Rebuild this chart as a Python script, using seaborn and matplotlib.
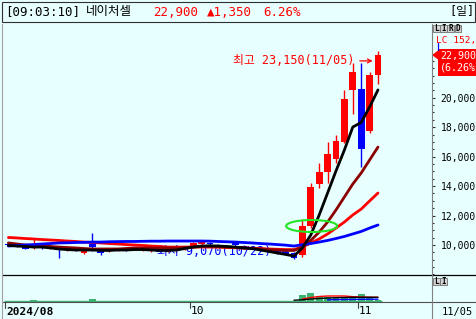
import numpy as np
import matplotlib
matplotlib.use("Agg")
import matplotlib.pyplot as plt
import seaborn as sns
from matplotlib.patches import Rectangle, Ellipse, Polygon
from matplotlib.lines import Line2D
from matplotlib.ticker import FixedLocator, FuncFormatter
import matplotlib.transforms as mtransforms

# ---------------- data ----------------
dates = ["2024-08-27", "2024-08-28", "2024-08-29", "2024-08-30",
         "2024-09-02", "2024-09-03", "2024-09-04", "2024-09-05", "2024-09-06",
         "2024-09-09", "2024-09-10", "2024-09-11", "2024-09-12", "2024-09-13",
         "2024-09-19", "2024-09-20", "2024-09-23", "2024-09-24", "2024-09-25",
         "2024-09-26", "2024-09-27", "2024-09-30",
         "2024-10-02", "2024-10-04", "2024-10-07", "2024-10-08", "2024-10-10",
         "2024-10-11", "2024-10-14", "2024-10-15", "2024-10-16", "2024-10-17",
         "2024-10-18", "2024-10-21", "2024-10-22", "2024-10-23", "2024-10-24",
         "2024-10-25", "2024-10-28", "2024-10-29", "2024-10-30", "2024-10-31",
         "2024-11-01", "2024-11-04", "2024-11-05"]

opens = [10100, 10050, 9900, 9800, 9900, 9780, 9800, 9650, 9750, 9470,
         10050, 9580, 9600, 9650, 9750, 9800, 9650, 9600, 9700, 9550,
         9600, 9700, 9880, 10050, 10150, 10000, 9850, 10200, 9950, 9750,
         9800, 9650, 9650, 9500, 9460, 9320, 11290, 14140, 14960, 15840,
         16990, 20530, 20590, 17740, 21550]
highs = [10200, 10100, 9950, 10450, 9950, 9900, 9850, 9800, 9800, 9650,
         10800, 9600, 9800, 9800, 9800, 9850, 9800, 9750, 9750, 9700,
         9800, 9950, 10200, 10250, 10200, 10050, 10000, 10250, 10000, 9900,
         9850, 9700, 9700, 9550, 9500, 11770, 14210, 15570, 16990, 17470,
         20530, 22360, 22360, 21750, 23150]
lows = [9950, 9850, 9700, 9750, 9750, 9700, 9150, 9600, 9600, 9420,
        9600, 9350, 9550, 9600, 9600, 9650, 9600, 9550, 9500, 9500,
        9550, 9650, 9850, 10000, 10000, 9850, 9800, 9950, 9750, 9700,
        9600, 9500, 9400, 9350, 9070, 9190, 11150, 13870, 14210, 15570,
        16930, 18900, 15300, 17610, 20930]
closes = [10000, 9900, 9750, 9900, 9800, 9850, 9650, 9750, 9650, 9590,
          9850, 9470, 9750, 9750, 9650, 9700, 9750, 9700, 9550, 9650,
          9750, 9900, 10120, 10200, 10050, 9900, 9950, 10000, 9800, 9850,
          9650, 9550, 9450, 9400, 9150, 11290, 13940, 14960, 16180, 17060,
          19910, 21750, 16520, 21550, 22900]

ma5 = [9970, 9930, 9900, 9860, 9860, 9800, 9730, 9690, 9660, 9660,
       9660, 9630, 9630, 9660, 9660, 9690, 9690, 9660, 9630, 9630,
       9660, 9760, 9860, 9930, 9950, 9930, 9900, 9860, 9800, 9760,
       9660, 9560, 9460, 9360, 9250, 9800, 10680, 12040, 13530, 15030,
       16450, 18010, 18320, 19370, 20530]
ma10 = [10140, 10070, 10000, 9970, 9930, 9900, 9860, 9830, 9800, 9760,
        9730, 9730, 9730, 9730, 9760, 9800, 9800, 9800, 9800, 9800,
        9800, 9830, 9860, 9900, 9900, 9900, 9860, 9830, 9800, 9760,
        9730, 9690, 9660, 9630, 9630, 9860, 10310, 10880, 11560, 12380,
        13260, 14140, 14890, 15770, 16650]
ma20 = [10510, 10480, 10440, 10410, 10370, 10340, 10310, 10270, 10240, 10200,
        10170, 10140, 10100, 10070, 10030, 10000, 9970, 9930, 9900, 9860,
        9860, 9860, 9860, 9860, 9860, 9850, 9830, 9810, 9800, 9780,
        9760, 9730, 9710, 9690, 9690, 9860, 10140, 10410, 10750, 11150,
        11560, 12040, 12440, 12990, 13530]
ma60 = [9930, 9970, 10000, 10030, 10070, 10100, 10140, 10150, 10170, 10180,
        10200, 10200, 10220, 10230, 10240, 10240, 10250, 10260, 10260, 10270,
        10270, 10270, 10270, 10270, 10260, 10240, 10220, 10200, 10170, 10140,
        10100, 10070, 10030, 9990, 9930, 10020, 10100, 10200, 10310, 10440,
        10580, 10750, 10920, 11150, 11360]

# volume (million shares)
volumes = [0.5, 0.4, 0.4, 0.6, 0.4, 0.3, 0.5, 0.4, 0.3, 0.4,
           1.6, 0.5, 0.4, 0.3, 0.3, 0.4, 0.3, 0.3, 0.4, 0.3,
           0.3, 0.4, 0.5, 0.4, 0.3, 0.3, 0.3, 0.4, 0.3, 0.3,
           0.3, 0.3, 0.4, 0.3, 0.5, 6.0, 8.0, 5.0, 4.0, 2.7,
           4.0, 3.7, 7.0, 2.7, 1.3]
N_ = None
vol_ma5 = [N_] * 35 + [2.0, 3.5, 4.5, 5.0, 5.0, 5.0, 4.3, 4.0, 3.8, 3.7]
vol_ma20 = [N_] * 34 + [0.8, 1.2, 2.0, 2.5, 3.0, 3.3, 3.5, 3.7, 3.7, 3.7, 3.7]
vol_ma60 = [N_] * 38 + [1.2, 1.4, 1.5, 1.6, 1.7, 1.8, 1.8]

price_ticks = [10000, 12000, 14000, 16000, 18000, 20000]
month_tick_dates = ["2024-08-27", "2024-10-02", "2024-11-01"]
month_tick_labels = ["2024/08", "10", "11"]

stock_name = "네이처셀"
clock = "[09:03:10]"
period = "[일]"

# ---------------- style ----------------
sns.set_style("white")
plt.rcParams["font.family"] = ["DejaVu Sans Mono", "Noto Sans CJK KR", "DejaVu Sans"]
plt.rcParams["axes.unicode_minus"] = False

W, H = 477, 319
BG = "#E8FFFF"
RED = "#FF0000"
BLUE = "#0000FF"
MAROON = "#8B0000"
GREEN = "#3CB371"

fig = plt.figure(figsize=(W / 100, H / 100), dpi=100, facecolor=BG)


def fx(px):
    return px / W


def fy(py):
    return 1 - py / H


def frect(x0, y0, x1, y1):
    return [fx(x0), fy(y1), (x1 - x0) / W, (y1 - y0) / H]


ax = fig.add_axes(frect(2, 24, 432, 275))
axv = fig.add_axes(frect(2, 275, 432, 302))
for a in (ax, axv):
    a.set_facecolor(BG)
    for s in a.spines.values():
        s.set_visible(False)

n = len(closes)
idx = np.arange(n)
o = np.array(opens, float)
h = np.array(highs, float)
l = np.array(lows, float)
c = np.array(closes, float)

XLIM = (-0.76, 50.43)
ax.set_xlim(*XLIM)
axv.set_xlim(*XLIM)
ax.set_ylim(7963, 25006)

# candles
cols = np.where(c >= o, RED, BLUE)
ax.vlines(idx, l, h, colors=cols, linewidth=1.0, zorder=2)
ax.bar(idx, np.maximum(np.abs(c - o), 40), bottom=np.minimum(o, c), width=0.8,
       color=cols, linewidth=0, zorder=2)

# moving averages
for ma, col in [(ma20, RED), (ma10, MAROON), (ma60, BLUE), (ma5, "black")]:
    sns.lineplot(x=idx, y=np.array(ma, float), ax=ax, color=col, linewidth=2.0,
                 zorder=3, legend=False)
ax.set_xlabel("")
ax.set_ylabel("")

# highlight ellipse around the breakout
ax.add_patch(Ellipse((36.1, 11290), 6.07, 815, fill=False, edgecolor="#22E622",
                     linewidth=1.5, zorder=5))

# high / low annotations
hi_i = int(np.argmax(h))
lo_i = int(np.argmin(l))


def md(d):
    return f"{d[5:7]}/{d[8:10]}"


hy = h[hi_i] - 650
ax.text(hi_i - 2.74, hy, f"최고 {int(h[hi_i]):,}({md(dates[hi_i])})", color=RED,
        fontsize=8.5, ha="right", va="center", zorder=6)
ax.annotate("", xy=(hi_i - 0.3, hy), xytext=(hi_i - 2.5, hy),
            arrowprops=dict(arrowstyle="->", color=RED, lw=0.9, mutation_scale=7),
            zorder=6)
ly = l[lo_i] + 520
ax.text(lo_i - 2.74, ly, f"최저 {int(l[lo_i]):,}({md(dates[lo_i])})", color=BLUE,
        fontsize=8.5, ha="right", va="center", zorder=2.5)
ax.annotate("", xy=(lo_i - 0.3, ly), xytext=(lo_i - 2.5, ly),
            arrowprops=dict(arrowstyle="->", color=BLUE, lw=0.9, mutation_scale=7),
            zorder=2.5)

# right price axis
ax.yaxis.tick_right()
ax.yaxis.set_major_locator(FixedLocator(price_ticks))
ax.yaxis.set_minor_locator(FixedLocator([v for v in range(8000, 23000, 500)
                                         if v not in price_ticks]))
ax.yaxis.set_major_formatter(FuncFormatter(lambda v, p: f"{int(v):,}"))
ax.tick_params(axis="y", which="major", direction="out", length=2.5, width=0.8,
               color="#303030", pad=3.8, labelsize=7, labelcolor="black",
               right=True, left=False)
ax.tick_params(axis="y", which="minor", direction="out", length=1.5, width=0.8,
               color="#303030", right=True, left=False)
ax.set_xticks([])

# volume panel
axv.bar(idx, volumes, width=0.8, color=GREEN, linewidth=0, zorder=2)
axv.hlines(0, -0.5, n - 0.5, color=GREEN, linewidth=1.0, zorder=2)
for arr, col in [(vol_ma5, RED), (vol_ma20, "black"), (vol_ma60, BLUE)]:
    arr = np.array([np.nan if v is None else v for v in arr], float)
    sns.lineplot(x=idx, y=arr, ax=axv, color=col, linewidth=1.0, zorder=3,
                 legend=False)
axv.set_ylim(-1, 26)
axv.set_xticks([])
axv.set_yticks([])
axv.set_xlabel("")
axv.set_ylabel("")

# separators / frame
fig.add_artist(Line2D([fx(2), fx(477)], [fy(275), fy(275)], color="black", lw=0.9))
fig.add_artist(Line2D([fx(2), fx(477)], [fy(302), fy(302)], color="#505050", lw=0.8))
fig.add_artist(Line2D([fx(432), fx(432)], [fy(24), fy(319)], color="#808080", lw=0.8))
fig.add_artist(Line2D([fx(1.5), fx(1.5)], [fy(24), fy(319)], color="#A0A0A0", lw=0.8))

# header
fig.add_artist(Rectangle((fx(2), fy(22)), 473 / W, 20 / H, transform=fig.transFigure,
                         facecolor=BG, edgecolor="#303030", lw=0.8))
chg = int(c[-1] - c[-2])
pct = (c[-1] / c[-2] - 1) * 100
hy_ = fy(12)
fig.text(fx(5), hy_, clock, fontsize=9, va="center", ha="left", color="black")
fig.text(fx(86), hy_, stock_name, fontsize=9, va="center", ha="left", color="black")
fig.text(fx(153), hy_, f"{int(c[-1]):,}", fontsize=9, va="center", ha="left", color=RED)
fig.text(fx(207), hy_, f"▲{chg:,}", fontsize=9, va="center", ha="left", color=RED)
fig.text(fx(263), hy_, f"{pct:.2f}%", fontsize=9, va="center", ha="left", color=RED)
fig.text(fx(449), hy_, period, fontsize=8.5, va="center", ha="left", color="black")

# date axis
bt = mtransforms.blended_transform_factory(axv.transData, fig.transFigure)
for k, (d, lbl) in enumerate(zip(month_tick_dates, month_tick_labels)):
    xpos = dates.index(d) - 0.4
    fig.add_artist(Line2D([xpos, xpos], [fy(302), fy(308)], transform=bt,
                          color="#404040", lw=0.8))
    fig.text(xpos + 0.15, fy(311.5), lbl, transform=bt, ha="left", va="center",
             fontsize=8, fontweight="bold" if k == 0 else "normal", color="black")
fig.text(fx(442), fy(311.5), md(dates[-1]), fontsize=7.5, ha="left", va="center",
         color="black")

# right-panel widgets
for k, ch in enumerate("LIRD"):
    x0 = 433.3 + k * 7.1
    fig.add_artist(Rectangle((fx(x0), fy(31.5)), 6.4 / W, 6.5 / H,
                             transform=fig.transFigure, facecolor="#D4D4D4",
                             edgecolor="#707070", lw=0.6))
    fig.text(fx(x0 + 3.2), fy(28.2), ch, fontsize=5.5, fontweight="bold",
             ha="center", va="center", color="black")
for k, ch in enumerate("LI"):
    x0 = 433.3 + k * 7.1
    fig.add_artist(Rectangle((fx(x0), fy(284.5)), 6.4 / W, 6.5 / H,
                             transform=fig.transFigure, facecolor="#D4D4D4",
                             edgecolor="#707070", lw=0.6))
    fig.text(fx(x0 + 3.2), fy(281.2), ch, fontsize=5.5, fontweight="bold",
             ha="center", va="center", color="black")

fig.text(fx(436), fy(40), "LC 152,", fontsize=6.8, ha="left", va="center", color=RED)
fig.add_artist(Line2D([fx(438.3), fx(438.3)], [fy(43), fy(50)], color=BLUE, lw=0.9))

# current price box and pointer
fig.add_artist(Rectangle((fx(438.5), fy(75.5)), (477 - 438.5) / W, 27 / H,
                         transform=fig.transFigure, facecolor=RED, edgecolor="none"))
fig.text(fx(440), fy(55.5), f"{int(c[-1]):,}", fontsize=7.2, ha="left", va="center",
         color="white")
fig.text(fx(440), fy(68), f"({pct:.2f}%", fontsize=7.2, ha="left", va="center",
         color="white")
yd = ax.transData.transform((0, c[-1]))[1]
fig.add_artist(Polygon([[432, yd], [438, yd + 4.5], [438, yd - 4.5]], closed=True,
                       transform=mtransforms.IdentityTransform(), facecolor=RED,
                       edgecolor="none"))

fig.savefig("out.png", dpi=100, facecolor=BG)
